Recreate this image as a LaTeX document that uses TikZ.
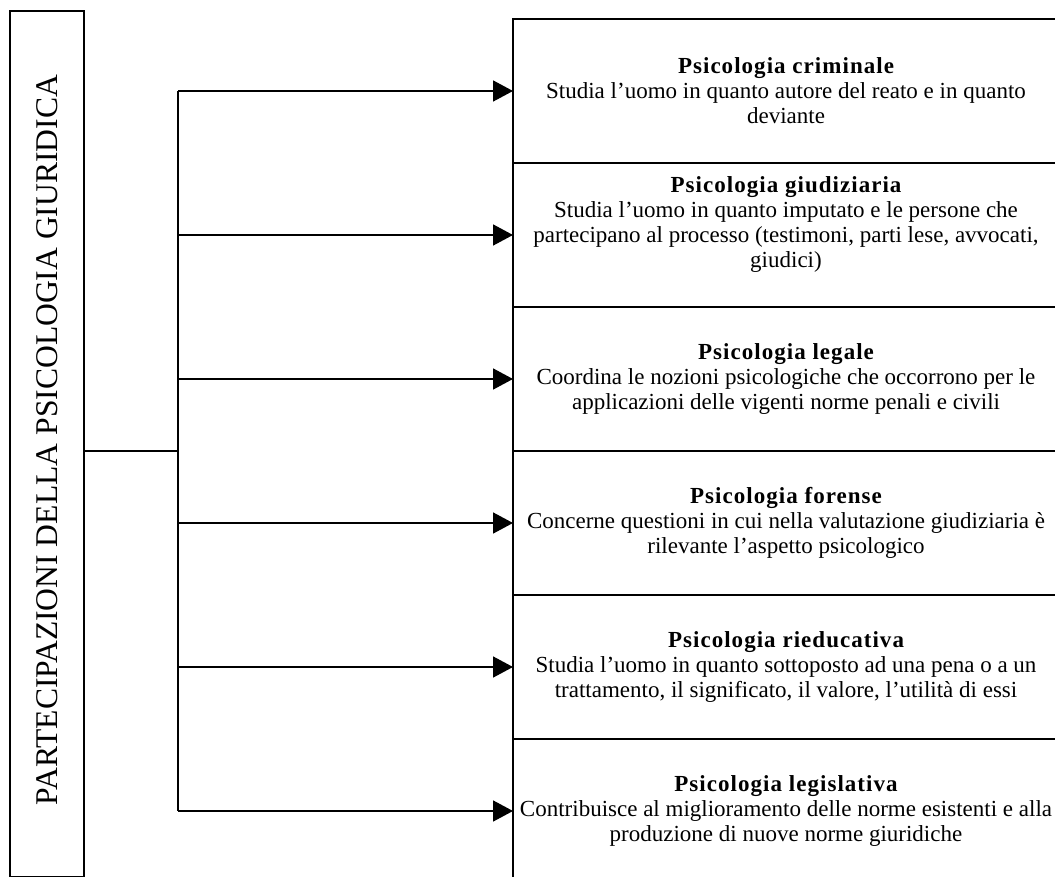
\documentclass[tikz,border=0pt]{standalone}
\usepackage{fontspec}
\setmainfont{Liberation Serif}
\usetikzlibrary{arrows.meta,positioning}
\newcommand{\titolo}[1]{{\bfseries\addfontfeature{LetterSpace=4.5}#1}}

\begin{document}
\begin{tikzpicture}[x=1pt,y=-1pt,line width=1.6pt,
  ramo/.style={draw,outer sep=0pt,minimum width=546pt,minimum height=144pt,
    align=center,font=\fontsize{23}{25}\selectfont},
  freccia/.style={-{Triangle[length=20pt,width=21pt]}}]
\useasboundingbox (0,0) rectangle (1055,877);
% colonna a sinistra
\node[draw,outer sep=0pt,minimum width=74pt,minimum height=866pt] (radice) at (47,444) {};
\node[rotate=90,font=\fontsize{31.6}{32}\selectfont] (nome) at (47,440)
  {PARTECIPAZIONI DELLA PSICOLOGIA GIURIDICA};
% rami
\node[ramo] (crim) at (786,91) {\titolo{Psicologia criminale}\\
  Studia l’uomo in quanto autore del reato e in quanto\\deviante};
\node[ramo,below=0pt of crim] (giud) {\titolo{Psicologia giudiziaria}\\
  Studia l’uomo in quanto imputato e le persone che\\
  partecipano al processo (testimoni, parti lese, avvocati,\\giudici)\\ \mbox{}};
\node[ramo,below=0pt of giud] (lega) {\titolo{Psicologia legale}\\
  Coordina le nozioni psicologiche che occorrono per le\\
  applicazioni delle vigenti norme penali e civili};
\node[ramo,below=0pt of lega] (fore) {\titolo{Psicologia forense}\\
  Concerne questioni in cui nella valutazione giudiziaria è\\
  rilevante l’aspetto psicologico};
\node[ramo,below=0pt of fore] (ried) {\titolo{Psicologia rieducativa}\\
  Studia l’uomo in quanto sottoposto ad una pena o a un\\
  trattamento, il significato, il valore, l’utilità di essi};
\node[ramo,below=0pt of ried] (legi) {\titolo{Psicologia legislativa}\\
  Contribuisce al miglioramento delle norme esistenti e alla\\
  produzione di nuove norme giuridiche};
% collegamenti
\coordinate (snodo) at (178,451);
\draw (radice.east |- snodo) -- (snodo);
\draw (snodo |- crim.west) -- (snodo |- legi.west);
\foreach \b in {crim,giud,lega,fore,ried,legi}
  \draw[freccia] (snodo |- \b.west) -- (\b.west);
\end{tikzpicture}
\end{document}
